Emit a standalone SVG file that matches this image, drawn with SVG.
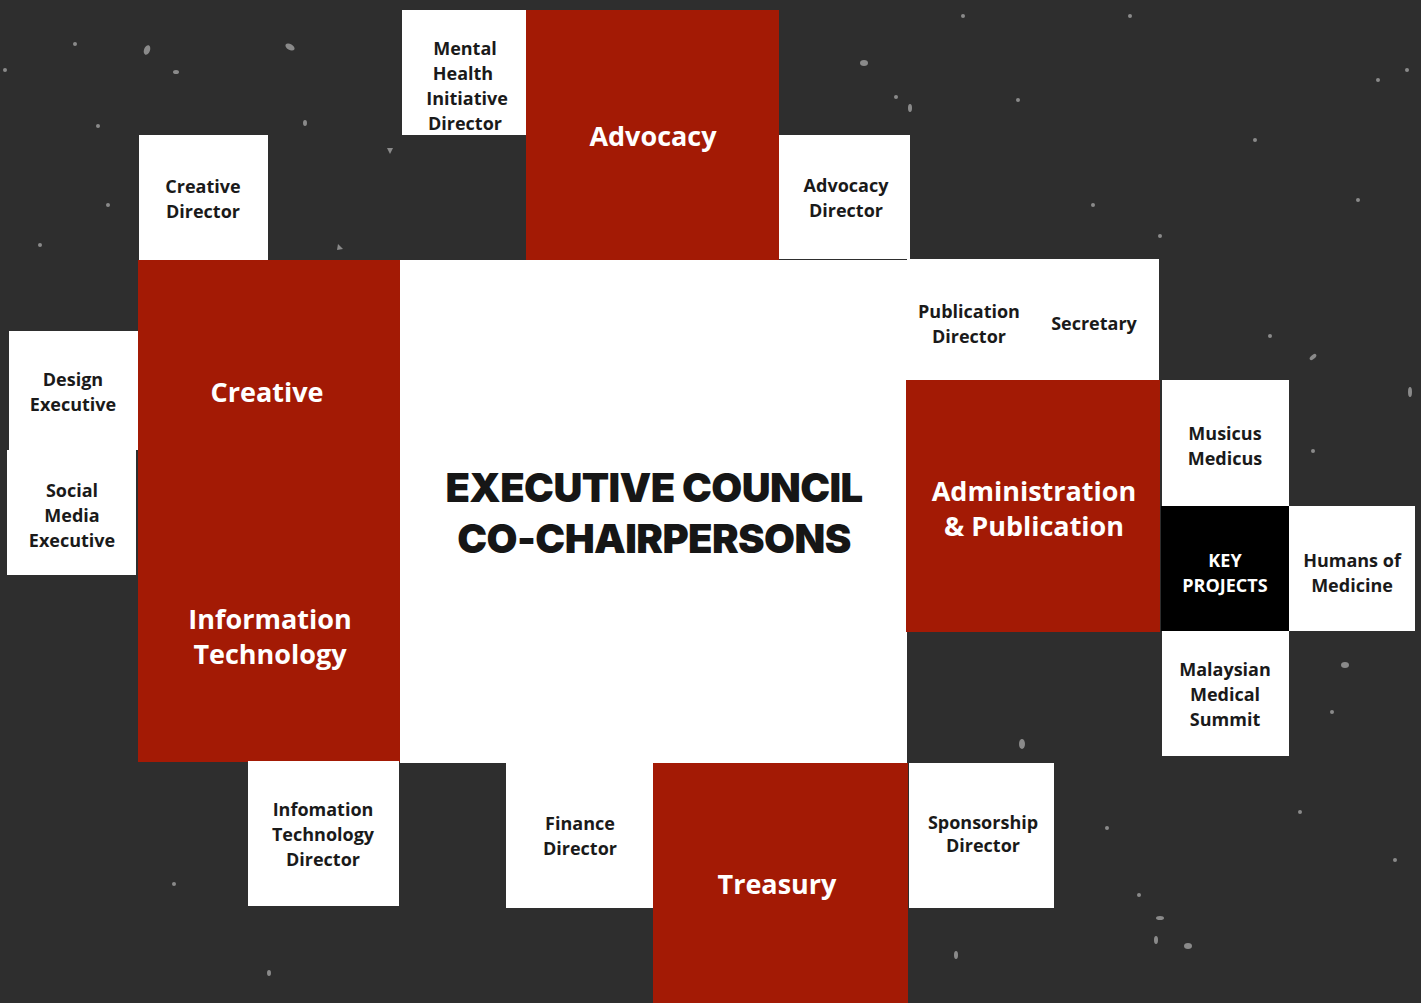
<svg xmlns="http://www.w3.org/2000/svg" width="1421" height="1003" viewBox="0 0 1421 1003">
<style>
.bg{fill:#2e2e2e}
.red{fill:#a31a05}
.wht{fill:#ffffff}
.blk{fill:#000000}
.lbl{font-family:"Open Sans","DejaVu Sans",sans-serif;font-weight:700;font-size:18px;fill:#1a1a1a;text-anchor:middle}
.head{font-family:"Open Sans","DejaVu Sans",sans-serif;font-weight:700;font-size:27px;fill:#ffffff;text-anchor:middle}
.title{font-family:Inter,"DejaVu Sans",sans-serif;font-weight:900;font-size:40px;fill:#161616;text-anchor:middle;letter-spacing:-0.6px}
.spk{fill:#8a8a8a}
</style>
<rect class="bg" x="0" y="0" width="1421" height="1003"/>
<g id="speckles">
<ellipse class="spk" cx="147" cy="50" rx="3" ry="5" transform="rotate(20 147 50)"/>
<ellipse class="spk" cx="290" cy="47" rx="5" ry="3" transform="rotate(30 290 47)"/>
<ellipse class="spk" cx="176" cy="72" rx="3" ry="2"/>
<circle class="spk" cx="75" cy="44" r="2"/>
<circle class="spk" cx="98" cy="126" r="2"/>
<circle class="spk" cx="108" cy="205" r="2"/>
<ellipse class="spk" cx="305" cy="123" rx="2" ry="3"/>
<path class="spk" d="M387 148 l6 0 l-3 6z"/>
<path class="spk" d="M338 244 l5 5 l-6 1z"/>
<ellipse class="spk" cx="864" cy="63" rx="4" ry="3"/>
<circle class="spk" cx="896" cy="97" r="2"/>
<ellipse class="spk" cx="910" cy="108" rx="2" ry="4"/>
<circle class="spk" cx="1160" cy="236" r="2"/>
<circle class="spk" cx="1093" cy="205" r="2"/>
<ellipse class="spk" cx="1313" cy="357" rx="4" ry="2" transform="rotate(-40 1313 357)"/>
<circle class="spk" cx="1270" cy="336" r="2"/>
<circle class="spk" cx="1313" cy="451" r="2"/>
<path class="spk" d="M1280 510 l8 -4 l-2 10z"/>
<ellipse class="spk" cx="1345" cy="665" rx="4" ry="3"/>
<circle class="spk" cx="1332" cy="712" r="2"/>
<ellipse class="spk" cx="1022" cy="744" rx="3" ry="5"/>
<circle class="spk" cx="1300" cy="812" r="2"/>
<ellipse class="spk" cx="1160" cy="918" rx="4" ry="2"/>
<ellipse class="spk" cx="1188" cy="946" rx="4" ry="3"/>
<ellipse class="spk" cx="1156" cy="940" rx="2" ry="4"/>
<circle class="spk" cx="1139" cy="895" r="2"/>
<circle class="spk" cx="1107" cy="828" r="2"/>
<ellipse class="spk" cx="956" cy="955" rx="2" ry="4"/>
<circle class="spk" cx="174" cy="884" r="2"/>
<ellipse class="spk" cx="269" cy="973" rx="2" ry="3"/>
<circle class="spk" cx="1378" cy="80" r="2"/>
<circle class="spk" cx="1407" cy="70" r="2"/>
<circle class="spk" cx="1358" cy="200" r="2"/>
<circle class="spk" cx="1255" cy="140" r="2"/>
<ellipse class="spk" cx="1410" cy="392" rx="2" ry="5"/>
<ellipse class="spk" cx="1412" cy="540" rx="2" ry="5"/>
<circle class="spk" cx="1395" cy="860" r="2"/>
<circle class="spk" cx="1018" cy="100" r="2"/>
<circle class="spk" cx="963" cy="16" r="2"/>
<circle class="spk" cx="1130" cy="16" r="2"/>
<circle class="spk" cx="40" cy="245" r="2"/>
<circle class="spk" cx="5" cy="70" r="2"/>
</g>
<g id="background-panels">
<rect id="center-panel" class="wht" x="400" y="260" width="507" height="503"/>
</g>
<g id="node-mental-health">
<rect class="wht" x="402" y="10" width="124" height="125"/>
<text class="lbl" x="465" y="55">Mental</text>
<text class="lbl" x="463" y="80">Health</text>
<text class="lbl" x="467" y="105">Initiative</text>
<text class="lbl" x="465" y="130">Director</text>
</g>
<g id="node-advocacy">
<rect class="red" x="526" y="10" width="253" height="250"/>
<text class="head" x="653" y="146">Advocacy</text>
</g>
<g id="node-advocacy-director">
<rect class="wht" x="779" y="135" width="131" height="124"/>
<text class="lbl" x="846" y="192">Advocacy</text>
<text class="lbl" x="846" y="217">Director</text>
</g>
<g id="node-creative-director">
<rect class="wht" x="139" y="135" width="129" height="125"/>
<text class="lbl" x="203" y="193">Creative</text>
<text class="lbl" x="203" y="218">Director</text>
</g>
<g id="node-creative-it">
<rect class="red" x="138" y="260" width="262" height="502"/>
<text class="head" x="267" y="402">Creative</text>
<text class="head" x="270" y="629">Information</text>
<text class="head" x="270" y="664">Technology</text>
</g>
<g id="node-design-executive">
<rect class="wht" x="9" y="331" width="129" height="119"/>
<text class="lbl" x="73" y="386">Design</text>
<text class="lbl" x="73" y="411">Executive</text>
</g>
<g id="node-social-media">
<rect class="wht" x="7" y="450" width="129" height="125"/>
<text class="lbl" x="72" y="497">Social</text>
<text class="lbl" x="72" y="522">Media</text>
<text class="lbl" x="72" y="547">Executive</text>
</g>
<g id="node-executive-council">
<text class="title" x="654" y="502">EXECUTIVE COUNCIL</text>
<text class="title" x="654" y="553">CO-CHAIRPERSONS</text>
</g>
<g id="node-publication-secretary">
<rect class="wht" x="907" y="259" width="252" height="121"/>
<text class="lbl" x="969" y="318">Publication</text>
<text class="lbl" x="969" y="343">Director</text>
<text class="lbl" x="1094" y="330">Secretary</text>
</g>
<g id="node-administration">
<rect class="red" x="906" y="380" width="254" height="252"/>
<text class="head" x="1034" y="501">Administration</text>
<text class="head" x="1034" y="536">&amp; Publication</text>
</g>
<g id="node-musicus">
<rect class="wht" x="1162" y="380" width="127" height="126"/>
<text class="lbl" x="1225" y="440">Musicus</text>
<text class="lbl" x="1225" y="465">Medicus</text>
</g>
<g id="node-key-projects">
<rect class="blk" x="1161" y="506" width="128" height="125"/>
<text class="lbl" x="1225" y="567" style="fill:#ffffff">KEY</text>
<text class="lbl" x="1225" y="592" style="fill:#ffffff">PROJECTS</text>
</g>
<g id="node-humans">
<rect class="wht" x="1289" y="506" width="126" height="125"/>
<text class="lbl" x="1352" y="567">Humans of</text>
<text class="lbl" x="1352" y="592">Medicine</text>
</g>
<g id="node-mms">
<rect class="wht" x="1162" y="631" width="127" height="125"/>
<text class="lbl" x="1225" y="676">Malaysian</text>
<text class="lbl" x="1225" y="701">Medical</text>
<text class="lbl" x="1225" y="726">Summit</text>
</g>
<g id="node-it-director">
<rect class="wht" x="248" y="761" width="151" height="145"/>
<text class="lbl" x="323" y="816">Infomation</text>
<text class="lbl" x="323" y="841">Technology</text>
<text class="lbl" x="323" y="866">Director</text>
</g>
<g id="node-finance">
<rect class="wht" x="506" y="763" width="149" height="145"/>
<text class="lbl" x="580" y="830">Finance</text>
<text class="lbl" x="580" y="855">Director</text>
</g>
<g id="node-treasury">
<rect class="red" x="653" y="763" width="255" height="240"/>
<text class="head" x="777" y="894">Treasury</text>
</g>
<g id="node-sponsorship">
<rect class="wht" x="909" y="763" width="145" height="145"/>
<text class="lbl" x="983" y="829">Sponsorship</text>
<text class="lbl" x="983" y="852">Director</text>
</g>
<g id="connectors"></g>
</svg>
